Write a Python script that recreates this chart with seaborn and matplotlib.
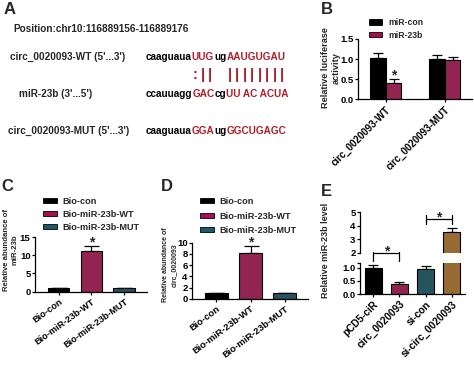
import numpy as np
import pandas as pd
import seaborn as sns
import matplotlib
matplotlib.use("Agg")
import matplotlib.pyplot as plt
from matplotlib.patches import Patch
from matplotlib.font_manager import FontProperties

# ---------------- data ----------------
# Panel A (sequence alignment)
pos_text = "Position:chr10:116889156-116889176"
seq_labels = ["circ_0020093-WT (5'...3')", "miR-23b (3'...5')", "circ_0020093-MUT (5'...3')"]
seq_wt = [("caaguaua", "k"), ("UUG", "r"), ("ug", "k"), ("AAUGUGAU", "r")]
seq_mir = [("ccauuagg", "k"), ("GAC", "r"), ("cg", "k"), ("UU AC ACUA", "r")]
seq_mut = [("caaguaua", "k"), ("GGA", "r"), ("ug", "k"), ("GGCUGAGC", "r")]
pair_marks = [(8, ":"), (9, "|"), (10, "|"), (13, "|"), (14, "|"), (15, "|"), (16, "|"),
              (17, "|"), (18, "|"), (19, "|"), (20, "|")]

# Panel B
b_constructs = ["circ_0020093-WT", "circ_0020093-MUT"]
b_treatments = ["miR-con", "miR-23b"]
b_con_mean = [1.03, 1.00]
b_con_err = [0.12, 0.10]
b_mir_mean = [0.41, 0.97]
b_mir_err = [0.09, 0.08]

# Panel C
c_groups = ["Bio-con", "Bio-miR-23b-WT", "Bio-miR-23b-MUT"]
c_mean = [0.9, 11.2, 0.9]
c_err = [0.15, 1.2, 0.2]

# Panel D
d_groups = ["Bio-con", "Bio-miR-23b-WT", "Bio-miR-23b-MUT"]
d_mean = [1.0, 8.2, 1.0]
d_err = [0.15, 1.2, 0.15]

# Panel E
e_groups = ["pCD5-ciR", "circ_0020093", "si-con", "si-circ_0020093"]
e_mean = [0.99, 0.37, 0.97, 3.49]
e_err = [0.10, 0.09, 0.10, 0.36]

# ---------------- style ----------------
sns.set_theme(style="ticks")
plt.rcParams["font.family"] = ["Liberation Sans", "DejaVu Sans"]
plt.rcParams["font.weight"] = "bold"
plt.rcParams["axes.linewidth"] = 0.9
plt.rcParams["xtick.major.width"] = 0.9
plt.rcParams["ytick.major.width"] = 0.9
plt.rcParams["xtick.major.size"] = 2.2
plt.rcParams["ytick.major.size"] = 2.2
plt.rcParams["xtick.major.pad"] = 1.5
plt.rcParams["ytick.major.pad"] = 1.0

BLACK = "#000000"
CRIMSON = "#a3124e"
TEAL = "#1c5a68"
BROWN = "#a86d22"
RED = "#b01e28"

W, H = 474, 366
fig = plt.figure(figsize=(W / 100, H / 100), dpi=100)
fig.patch.set_facecolor("white")


def ax_px(l, t, r, b):
    return fig.add_axes([l / W, 1 - b / H, (r - l) / W, (b - t) / H])


def ftext(x, y, s, **kw):
    return fig.text(x / W, 1 - y / H, s, **kw)


def style_ax(ax, fs):
    for s in ["top", "right"]:
        ax.spines[s].set_visible(False)
    for s in ["left", "bottom"]:
        ax.spines[s].set_color("black")
    ax.tick_params(axis="both", colors="black", labelsize=fs, direction="out")
    ax.set_xlabel("")
    ax.set_ylabel("")
    for lab in ax.get_yticklabels():
        lab.set_fontweight("bold")


def rot_labels(ax, labels, fs, rot=45):
    ax.set_xticks(range(len(labels)))
    ax.set_xticklabels(labels, rotation=rot, ha="right", rotation_mode="anchor",
                       fontsize=fs, fontweight="bold")


def add_err(ax, xs, means, errs, capsize):
    ax.errorbar(xs, means, yerr=[np.zeros(len(errs)), errs], fmt="none",
                ecolor="black", elinewidth=0.9, capsize=capsize, capthick=0.9, zorder=1)


def star(ax, x, y, dy=0.0, fs=10):
    ax.annotate("*", xy=(x, y), xytext=(0, dy), textcoords="offset points",
                ha="center", va="bottom", fontsize=fs, fontweight="bold",
                annotation_clip=False)


# ---------------- Panel A ----------------
ren = fig.canvas.get_renderer()
fsA = 7.2
propA = FontProperties(family=["Liberation Sans", "DejaVu Sans"], weight="bold", size=fsA)
cmap = {"k": "black", "r": RED}


def seq_row(x0, y, pieces):
    x = x0
    for txt, c in pieces:
        ftext(x, y, txt, color=cmap[c], fontsize=fsA, fontweight="bold",
              ha="left", va="center")
        w, h, d = ren.get_text_width_height_descent(txt, propA, ismath=False)
        x += w
    return x


def char_center(x0, s, i):
    w0 = ren.get_text_width_height_descent(s[:i], propA, ismath=False)[0] if i > 0 else 0
    w1 = ren.get_text_width_height_descent(s[:i + 1], propA, ismath=False)[0]
    return x0 + (w0 + w1) / 2


ftext(4, 2, "A", fontsize=12, fontweight="bold", ha="left", va="top")
ftext(13, 29, pos_text, fontsize=fsA, fontweight="bold", ha="left", va="center")
ftext(10, 57, seq_labels[0], fontsize=fsA, fontweight="bold", ha="left", va="center")
ftext(19, 94, seq_labels[1], fontsize=fsA, fontweight="bold", ha="left", va="center")
ftext(8, 131, seq_labels[2], fontsize=fsA, fontweight="bold", ha="left", va="center")
seqx = 146
seq_row(seqx, 57, seq_wt)
seq_row(seqx, 94, seq_mir)
seq_row(seqx, 131, seq_mut)
wt_full = "".join(p for p, _ in seq_wt)
for i, m in pair_marks:
    cx = char_center(seqx, wt_full, i)
    ftext(cx, 75, m, color=RED, fontsize=10.5, fontweight="bold", ha="center", va="center")

# ---------------- Panel B ----------------
axB = ax_px(358, 39, 472, 99.3)
dfB = pd.DataFrame({
    "construct": b_constructs * 2,
    "treatment": [b_treatments[0]] * 2 + [b_treatments[1]] * 2,
    "value": b_con_mean + b_mir_mean,
})
sns.barplot(data=dfB, x="construct", y="value", hue="treatment", hue_order=b_treatments,
            palette=[BLACK, CRIMSON], width=0.53, edgecolor="black", linewidth=0.8,
            errorbar=None, legend=False, ax=axB, zorder=2)
errsB = [b_con_err, b_mir_err]
for cont, errs in zip(axB.containers, errsB):
    xs = [p.get_x() + p.get_width() / 2 for p in cont]
    hs = [p.get_height() for p in cont]
    add_err(axB, xs, hs, errs, 3.6)
cB = axB.containers[1][0]
star(axB, cB.get_x() + cB.get_width() / 2, b_mir_mean[0] + b_mir_err[0], -2.5, 10)
axB.set_ylim(0, 1.5)
axB.set_yticks([0, 0.5, 1.0, 1.5])
axB.set_yticklabels(["0.0", "0.5", "1.0", "1.5"])
axB.set_xlim(-0.47, 1.46)
style_ax(axB, 6.8)
rot_labels(axB, b_constructs, 7.0)
ftext(331, 68, "Relative luciferase\nactivity", rotation=90, ha="center", va="center",
      fontsize=6.6, fontweight="bold", multialignment="center", linespacing=1.3)
ftext(321, 2, "B", fontsize=12, fontweight="bold", ha="left", va="top")
fig.legend(handles=[Patch(facecolor=BLACK, edgecolor="black", linewidth=0.6),
                    Patch(facecolor=CRIMSON, edgecolor="black", linewidth=0.6)],
           labels=b_treatments, loc="upper left", bbox_to_anchor=(369 / W, 1 - 18 / H),
           frameon=False, handlelength=1.5, handleheight=0.55,
           handletextpad=0.7, labelspacing=0.45, borderpad=0, borderaxespad=0,
           prop={"weight": "bold", "size": 6.2})


# ---------------- Panel C & D ----------------
def single_panel(ax, groups, means, errs, ylim, yticks, capsize):
    df = pd.DataFrame({"group": groups, "value": means})
    sns.barplot(data=df, x="group", y="value", hue="group", hue_order=groups,
                palette=[BLACK, CRIMSON, TEAL], width=0.66, edgecolor="black",
                linewidth=0.8, errorbar=None, legend=False, ax=ax, zorder=2, dodge=False)
    add_err(ax, list(range(len(groups))), means, errs, capsize)
    star(ax, 1, means[1] + errs[1], -2.5, 10)
    ax.set_ylim(*ylim)
    ax.set_yticks(yticks)
    ax.set_xlim(-0.72, 2.69)


axC = ax_px(35, 237, 147, 291.7)
single_panel(axC, c_groups, c_mean, c_err, (0, 15), [0, 5, 10, 15], 5.4)
style_ax(axC, 6.8)
rot_labels(axC, c_groups, 6.6, 36)
ftext(11, 250, "Relative abundance of\nmiR-23b", rotation=90, ha="center", va="center",
      fontsize=5.6, fontweight="bold", multialignment="center", linespacing=1.25)
ftext(1, 179, "C", fontsize=12, fontweight="bold", ha="left", va="top")
leg_handles = [Patch(facecolor=c, edgecolor="black", linewidth=0.6) for c in [BLACK, CRIMSON, TEAL]]
fig.legend(handles=leg_handles, labels=c_groups, loc="upper left",
           bbox_to_anchor=(43 / W, 1 - 197 / H), frameon=False, handlelength=1.5,
           handleheight=0.5, handletextpad=0.6, labelspacing=0.42, borderpad=0,
           borderaxespad=0, prop={"weight": "bold", "size": 6.6})

axD = ax_px(192, 242.5, 308, 299)
single_panel(axD, d_groups, d_mean, d_err, (0, 10), [0, 2, 4, 6, 8, 10], 5.4)
style_ax(axD, 6.8)
rot_labels(axD, d_groups, 6.8, 37)
ftext(170, 265, "Relative abundance of\ncirc_0020093", rotation=90, ha="center", va="center",
      fontsize=5.0, fontweight="bold", multialignment="center", linespacing=1.4)
ftext(161, 179, "D", fontsize=12, fontweight="bold", ha="left", va="top")
fig.legend(handles=leg_handles, labels=d_groups, loc="upper left",
           bbox_to_anchor=(200 / W, 1 - 197 / H), frameon=False, handlelength=1.5,
           handleheight=0.5, handletextpad=0.6, labelspacing=0.6, borderpad=0,
           borderaxespad=0, prop={"weight": "bold", "size": 6.6})

# ---------------- Panel E (broken axis) ----------------
axEt = ax_px(360, 212, 465, 252.7)
axEb = ax_px(360, 263, 465, 294)
for ax in (axEt, axEb):
    dfE = pd.DataFrame({"group": e_groups, "value": e_mean})
    sns.barplot(data=dfE, x="group", y="value", hue="group", hue_order=e_groups,
                palette=[BLACK, CRIMSON, TEAL, BROWN], width=0.65, edgecolor="black",
                linewidth=0.8, errorbar=None, legend=False, ax=ax, zorder=2, dodge=False)
    add_err(ax, list(range(len(e_groups))), e_mean, e_err, 3.6)
    ax.set_xlim(-0.5, 3.5)
axEt.set_ylim(2, 5)
axEt.set_yticks([2, 3, 4, 5])
axEb.set_ylim(0, 1.18)
axEb.set_yticks([0, 0.5, 1.0, 1.18])
axEb.set_yticklabels(["0.0", "0.5", "1.0", ""])
style_ax(axEt, 6.8)
style_ax(axEb, 6.8)
axEt.spines["bottom"].set_visible(False)
axEt.tick_params(axis="x", bottom=False, labelbottom=False)
rot_labels(axEb, e_groups, 7.2)
# significance brackets
for (x0, x1, yb, ytop, ybot) in [(0, 1, 2.0, 2.08, 1.42), (2, 3, 4.49, 4.77, 4.1)]:
    axEt.plot([x0, x1], [yb, yb], color="black", lw=0.9, clip_on=False)
    axEt.plot([x0, x0], [ytop, ybot], color="black", lw=0.9, clip_on=False)
    axEt.plot([x1, x1], [ytop, ybot], color="black", lw=0.9, clip_on=False)
    star(axEt, (x0 + x1) / 2, yb, -4, 10)
ftext(326, 250, "Relative miR-23b level", rotation=90, ha="center", va="center",
      fontsize=6.5, fontweight="bold")
ftext(321, 184, "E", fontsize=12, fontweight="bold", ha="left", va="top")

fig.savefig("out.png", dpi=100, facecolor="white")
